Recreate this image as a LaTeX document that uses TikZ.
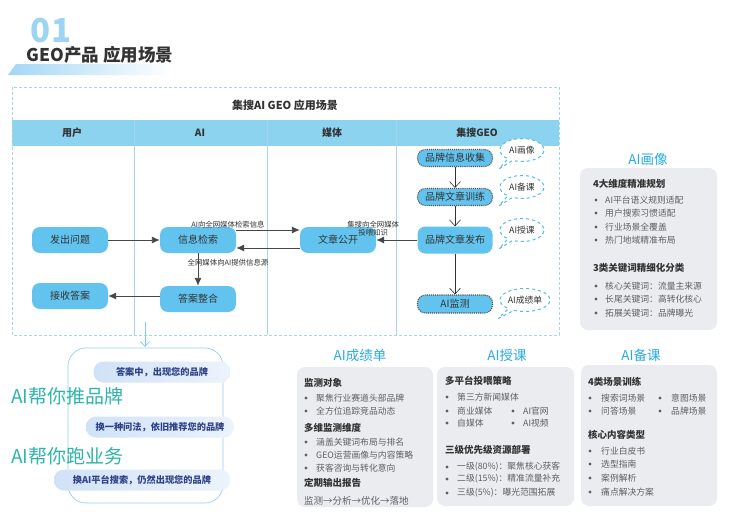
\documentclass[tikz,border=0pt]{standalone}
\usepackage{fontspec}
\setmainfont{Noto Sans CJK SC}
\usetikzlibrary{arrows.meta,positioning,shapes.callouts}
\definecolor{laneLine}  {RGB}{165,212,236}
\definecolor{headBand}  {RGB}{140,211,240}
\definecolor{flowBlue}  {RGB}{ 98,196,238}
\definecolor{inkDark}   {RGB}{ 51, 51, 51}
\definecolor{tagBlue}   {RGB}{ 41,171,226}
\definecolor{panelGray} {RGB}{235,236,239}
\definecolor{itemGray}  {RGB}{ 95, 95,100}
\definecolor{brandTeal} {RGB}{ 46,180,170}
\definecolor{pillText}  {RGB}{ 45, 65,135}
\definecolor{pillLeft}  {RGB}{208,226,248}
\definecolor{pillRight} {RGB}{236,243,252}
\definecolor{bigOne}    {RGB}{140,205,242}

\begin{document}
\begin{tikzpicture}[x=1pt,y=-1pt,
    flow/.style={rectangle,rounded corners=8pt,fill=flowBlue,text=inkDark,
      font=\fontsize{10}{12}\selectfont,minimum width=76pt,minimum height=26pt,inner sep=1pt},
    geo/.style={flow,draw=inkDark!85,densely dotted,line width=1.1pt,
      minimum width=75pt,minimum height=17pt},
    bubble/.style={ellipse callout,draw=tagBlue!80,dashed,line width=1pt,fill=white,
      text=inkDark,font=\fontsize{8.8}{9}\selectfont,minimum width=44pt,minimum height=23pt,
      inner sep=0pt},
    lbl/.style={font=\fontsize{7.4}{8.4}\selectfont,text=inkDark,inner sep=1pt,align=center},
    arr/.style={-{Latex[length=8pt,width=7pt]},line width=0.9pt,draw=inkDark!90},
    varr/.style={-{Straight Barb[length=6pt,width=11pt]},line width=0.6pt,draw=inkDark},
    lanehead/.style={font=\fontsize{10}{11}\selectfont\bfseries,text=inkDark},
    ptitle/.style={font=\fontsize{13.5}{14}\selectfont,text=tagBlue},
    phead/.style={anchor=west,inner sep=0pt,font=\fontsize{9.5}{10}\selectfont\bfseries,text=inkDark},
    pitem/.style={anchor=west,inner sep=0pt,font=\fontsize{8.8}{9}\selectfont,text=itemGray},
    pill/.style={rectangle,rounded corners=10pt,left color=pillLeft,right color=pillRight,
      minimum height=21pt,text=pillText,font=\fontsize{9.2}{10}\selectfont\bfseries},
    bigtag/.style={anchor=west,inner sep=0pt,font=\fontsize{19}{20}\selectfont,text=brandTeal}]
  \useasboundingbox (0,0) rectangle (750,520);
  \fill[white] (0,0) rectangle (750,520);

  % page heading
  \node[font=\fontsize{33}{33}\selectfont\bfseries,text=bigOne!85] (numOne) at (51,31) {01};
  \shade[left color=bigOne!80,right color=white] (16,64) -- (172,64) -- (168,75) -- (8,75) -- cycle;
  \node[anchor=west,font=\fontsize{17.5}{18}\selectfont\bfseries,text=inkDark] (pageTitle) at (23,55) {GEO产品 应用场景};

  % swimlanes
  \fill[headBand] (12,120) rectangle (559,146);
  \draw[laneLine,densely dashed,line width=0.6pt] (12,87) rectangle (559,335);
  \foreach \xx in {134,267,396}{
    \draw[laneLine,line width=0.6pt] (\xx,120) -- (\xx,335);
  }
  \node[lanehead,font=\fontsize{11}{12}\selectfont\bfseries] (laneTitle) at (285,105) {集搜AI GEO 应用场景};
  \node[lanehead] (hUser)  at (72,133)  {用户};
  \node[lanehead] (hAI)    at (200,133) {AI};
  \node[lanehead] (hMedia) at (332,133) {媒体};
  \node[lanehead] (hGeo)   at (477,133) {集搜GEO};

  % flow nodes
  \node[flow] (wenti)   at (70,240)  {发出问题};
  \node[flow] (jiansuo) at (198,240) {信息检索};
  \node[flow] (gongkai) at (338,240) {文章公开};
  \node[flow] (jieshou) at (70,296)  {接收答案};
  \node[flow] (zhenghe) at (198,299) {答案整合};

  \node[geo]  (shouji)  at (455,158) {品牌信息收集};
  \node[geo]  (xunlian) at (455,197) {品牌文章训练};
  \node[flow,minimum width=75pt,minimum height=27pt] (fabu) at (455,240) {品牌文章发布};
  \node[geo,minimum height=18pt] (jiance) at (455,304) {AI监测};

  \node[bubble,callout relative pointer={(-11pt,-9pt)}] (bHx) at (522,150) {AI画像};
  \node[bubble,callout relative pointer={(-11pt,-9pt)}] (bBk) at (522,187) {AI备课};
  \node[bubble,callout relative pointer={(-11pt,-9pt)}] (bSk) at (522,230) {AI授课};
  \node[bubble,minimum width=50pt,callout relative pointer={(-13pt,-9pt)}] (bCj) at (525,300) {AI成绩单};

  % connectors
  \draw[arr] (wenti) -- (jiansuo);
  \draw[arr] ([yshift=10pt]jiansuo.east) -- node[lbl,above,xshift=-40pt] {AI向全网媒体检索信息} ([yshift=10pt]gongkai.west);
  \draw[arr] ([yshift=-8pt]gongkai.west) -- ([yshift=-8pt]jiansuo.east);
  \draw[arr] (jiansuo) -- node[lbl,pos=0.28,xshift=30pt] {全网媒体向AI提供信息源} (zhenghe);
  \draw[arr] (zhenghe.west |- jieshou.east) -- (jieshou.east);
  \draw[arr] (fabu) -- node[lbl,pos=1,above=2pt,xshift=-3pt] {集搜向全网媒体\\投喂知识} (gongkai);
  \draw[varr] (shouji) -- (xunlian);
  \draw[varr] (xunlian) -- (fabu);
  \draw[varr] (fabu) -- (jiance);

  % brand promise block
  \coordinate (dropTop) at (145,322);
  \coordinate (dropEnd) at (145,347);
  \draw[laneLine!90!tagBlue,rounded corners=18pt,line width=0.7pt] (68,348) rectangle (223,503);
  \draw[-{Straight Barb[length=5pt,width=9pt]},laneLine!70!tagBlue,line width=0.7pt] (dropTop) -- (dropEnd);
  \node[pill,minimum width=137pt] (pillA) at (162,372) {答案中，出现您的品牌};
  \node[pill,minimum width=148pt] (pillB) at (160,427) {换一种问法，依旧推荐您的品牌};
  \node[pill,minimum width=176pt] (pillC) at (142,480) {换AI平台搜索，仍然出现您的品牌};
  \node[bigtag] (tagPush) at (11,396) {AI帮你推品牌};
  \node[bigtag] (tagRun)  at (11,456) {AI帮你跑业务};

  % AI画像 panel
  \node[ptitle] (tHx) at (648,159) {AI画像};
  \fill[panelGray,rounded corners=8pt] (580,168) rectangle (717,330);
  \node[phead] (hHxA) at (593,184) {4大维度精准规划};
  \foreach \txt/\yy [count=\i] in {AI平台语义规则适配/200,用户搜索习惯适配/213,行业场景全覆盖/227,热门地域精准布局/240}{
    \fill[itemGray] (596,\yy) circle[radius=1.7pt];
    \node[pitem] (hxa\i) at (605,\yy) {\txt};
  }
  \node[phead] (hHxB) at (593,268) {3类关键词精细化分类};
  \foreach \txt/\yy [count=\i] in {核心关键词：流量主来源/286,长尾关键词：高转化核心/299,拓展关键词：品牌曝光/313}{
    \fill[itemGray] (596,\yy) circle[radius=1.7pt];
    \node[pitem] (hxb\i) at (605,\yy) {\txt};
  }

  % AI成绩单 panel
  \node[ptitle] (tCj) at (360,355) {AI成绩单};
  \fill[panelGray,rounded corners=8pt] (297,367) rectangle (433,507);
  \node[phead] (hCjA) at (304,383) {监测对象};
  \foreach \txt/\yy [count=\i] in {聚焦行业赛道头部品牌/398,全方位追踪竞品动态/411}{
    \fill[itemGray] (306,\yy) circle[radius=1.7pt];
    \node[pitem] (cja\i) at (316,\yy) {\txt};
  }
  \node[phead] (hCjB) at (304,428) {多维监测维度};
  \foreach \txt/\yy [count=\i] in {涵盖关键词布局与排名/442,GEO运营画像与内容策略/455,获客咨询与转化意向/468}{
    \fill[itemGray] (306,\yy) circle[radius=1.7pt];
    \node[pitem] (cjb\i) at (316,\yy) {\txt};
  }
  \node[phead] (hCjC) at (304,483) {定期输出报告};
  \node[pitem,font=\fontsize{9.5}{10}\selectfont] (cjFlow) at (304,501) {监测→分析→优化→落地};

  % AI授课 panel
  \node[ptitle] (tSk) at (507,355) {AI授课};
  \fill[panelGray,rounded corners=8pt] (437,367) rectangle (574,506);
  \node[phead] (hSkA) at (445,381) {多平台投喂策略};
  \foreach \txt/\xx/\yy [count=\i] in {第三方新闻媒体/447/397,商业媒体/447/411,AI官网/513/411,自媒体/447/423,AI视频/513/423}{
    \fill[itemGray] (\xx,\yy) circle[radius=1.7pt];
    \node[pitem] (ska\i) at (\xx+10,\yy) {\txt};
  }
  \node[phead] (hSkB) at (445,450) {三级优先级资源部署};
  \foreach \txt/\yy [count=\i] in {{一级(80\%)：聚焦核心获客}/467,{二级(15\%)：精准流量补充}/479,{三级(5\%)：曝光范围拓展}/493}{
    \fill[itemGray] (447,\yy) circle[radius=1.7pt];
    \node[pitem] (skb\i) at (457,\yy) {\txt};
  }

  % AI备课 panel
  \node[ptitle] (tBk) at (641,355) {AI备课};
  \fill[panelGray,rounded corners=8pt] (581,365) rectangle (717,506);
  \node[phead] (hBkA) at (588,382) {4类场景训练};
  \foreach \txt/\xx/\yy [count=\i] in {搜索词场景/590/398,意图场景/660/398,问答场景/590/411,品牌场景/660/411}{
    \fill[itemGray] (\xx,\yy) circle[radius=1.7pt];
    \node[pitem] (bka\i) at (\xx+11,\yy) {\txt};
  }
  \node[phead] (hBkB) at (588,435) {核心内容类型};
  \foreach \txt/\yy [count=\i] in {行业白皮书/451,选型指南/464,案例解析/478,痛点解决方案/492}{
    \fill[itemGray] (590,\yy) circle[radius=1.7pt];
    \node[pitem] (bkb\i) at (601,\yy) {\txt};
  }
\end{tikzpicture}
\end{document}
